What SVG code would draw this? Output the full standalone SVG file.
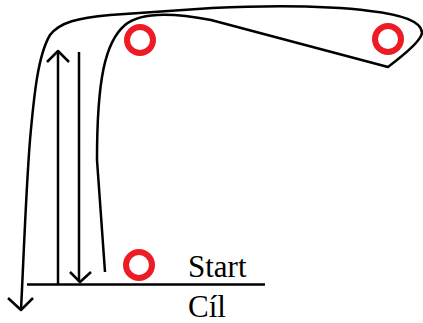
<svg xmlns="http://www.w3.org/2000/svg" width="423" height="323" viewBox="0 0 423 323">
<style>
.ln{fill:none;stroke:#000;stroke-width:2.5;stroke-linejoin:round;stroke-linecap:butt}
.ring{fill:none;stroke:#ED1C24;stroke-width:6}
.t{font-family:"Liberation Serif","Times New Roman",serif;font-size:31px;fill:#000}
</style>
<rect width="423" height="323" fill="#fff"/>
<g id="connectors">
<path class="ln" d="M21,310 C24,250 26,190 30,140 C34,95 38,55 50,35 C60,22 78,18 110,15 L212,8 C280,5 330,6 370,11 C405,15 422,22 422,33 C421,42 400,58 388,67 L211,20 C170,12 140,12 125,25 C105,42 97,80 97,160 L105,272"/>
<polyline class="ln" points="8,298 21,310 33,298"/>
<line class="ln" x1="58" y1="285" x2="58" y2="51"/>
<polyline class="ln" points="47,62 58,51 69,62"/>
<line class="ln" x1="79" y1="52" x2="79" y2="282"/>
<polyline class="ln" points="70,272 80,282 91,272"/>
<line class="ln" x1="27" y1="284.5" x2="265" y2="284.5"/>
</g>
<g id="ring1"><circle class="ring" cx="140" cy="40" r="13"/></g>
<g id="ring2"><circle class="ring" cx="388" cy="39" r="13"/></g>
<g id="ring3"><circle class="ring" cx="139" cy="265" r="13"/></g>
<g id="label-start"><text class="t" x="188" y="277">Start</text></g>
<g id="label-cil"><text class="t" x="188" y="317">Cíl</text></g>
</svg>
